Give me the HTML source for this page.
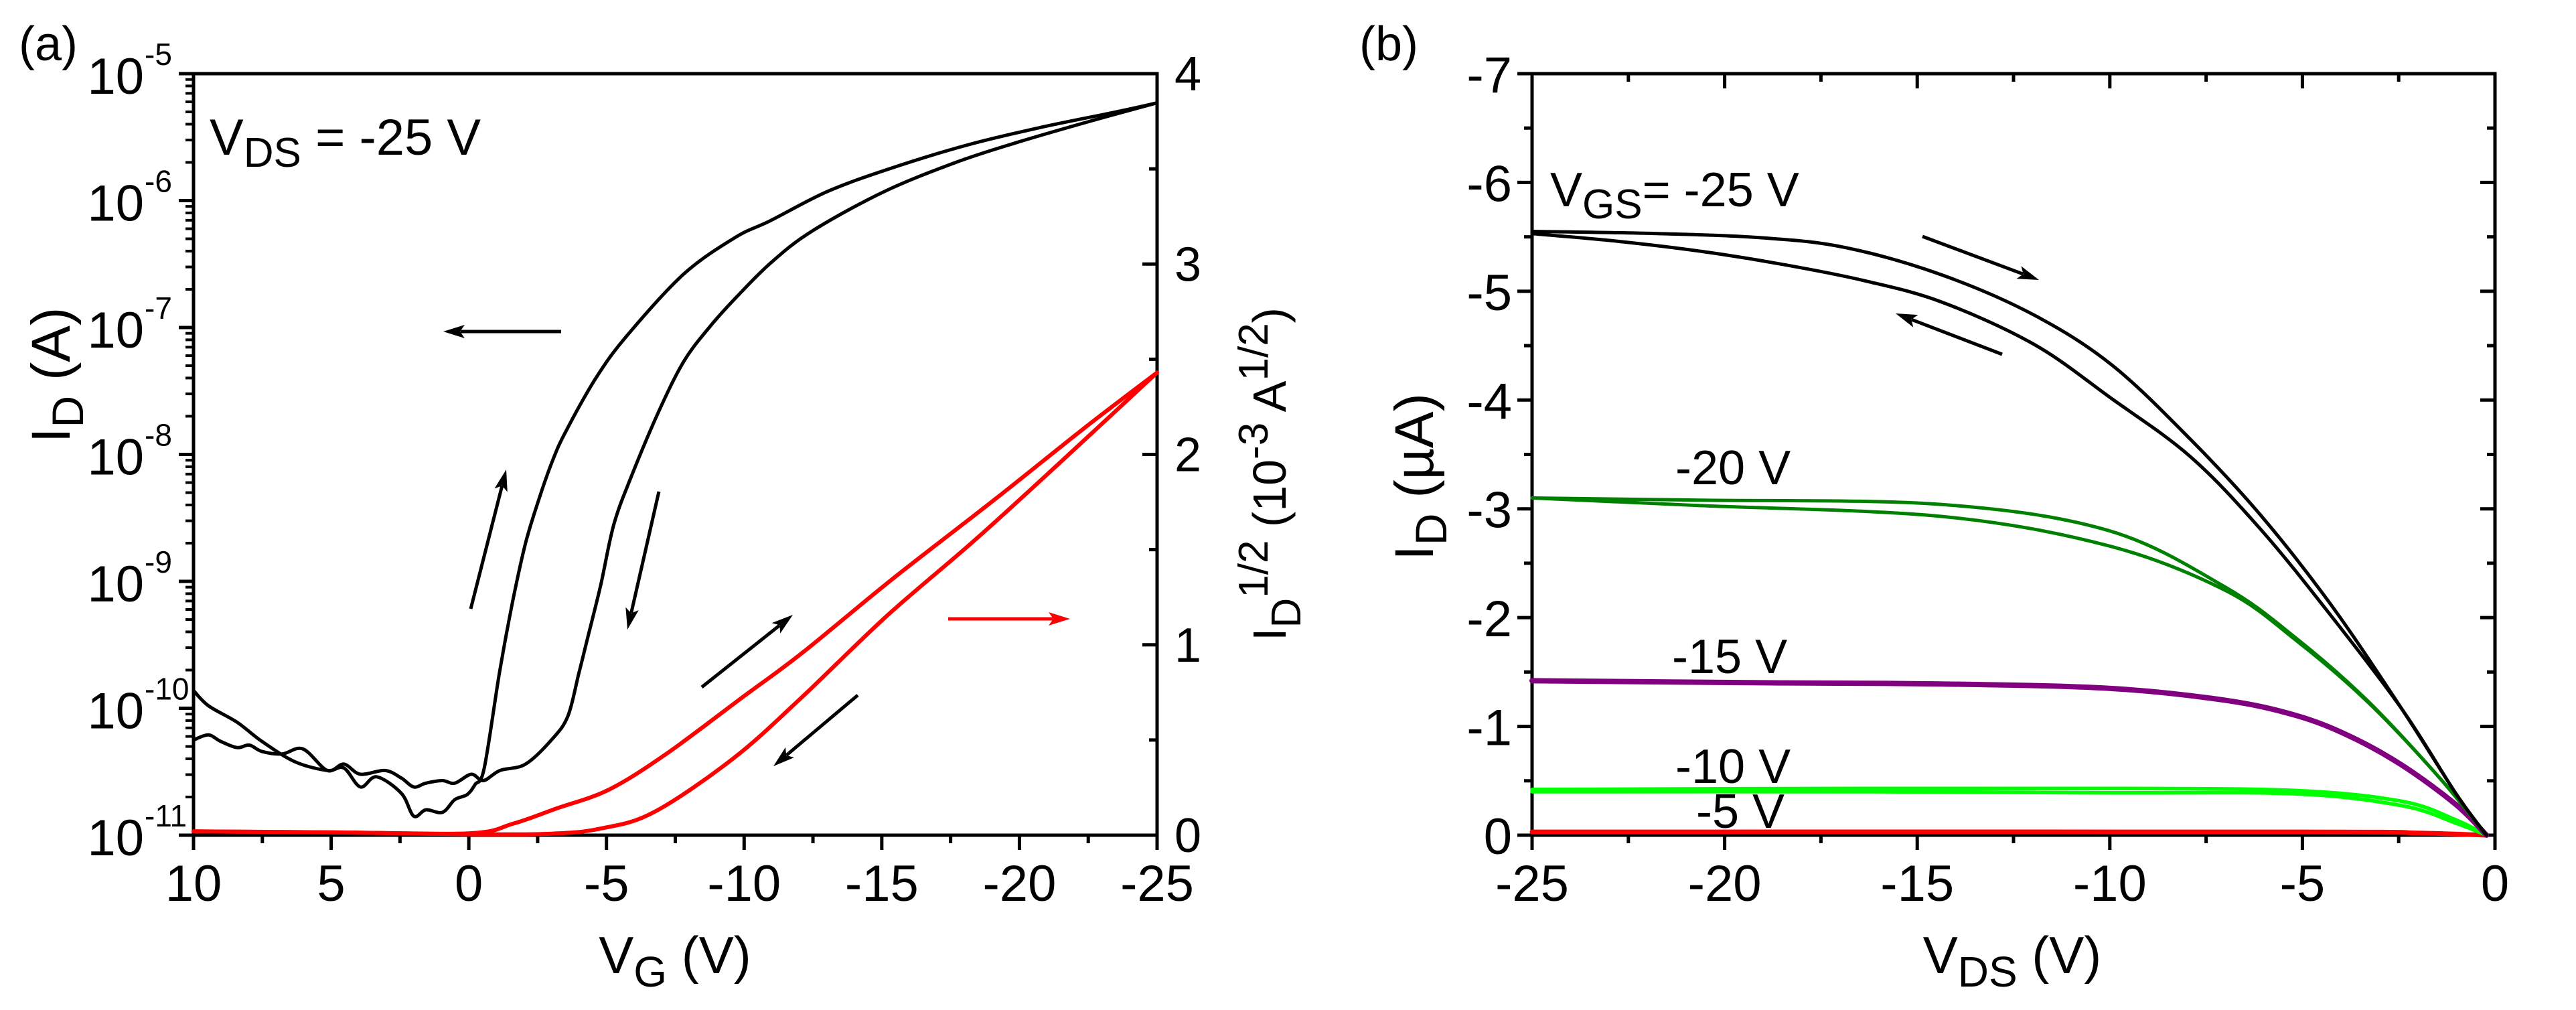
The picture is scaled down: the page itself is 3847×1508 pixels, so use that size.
<!DOCTYPE html>
<html><head><meta charset="utf-8">
<style>
html,body{margin:0;padding:0;background:#fff;}
svg{display:block;font-family:"Liberation Sans",Arial,sans-serif;}
</style></head>
<body>
<svg id="fig" width="3847" height="1508" viewBox="0 0 3847 1508" xmlns="http://www.w3.org/2000/svg">
<rect width="3847" height="1508" fill="#fff"/>
<g id="pa"></g>
<g id="pb"></g>
</svg>
<script>
// ---------- Panel (a) data ----------
const aFwdVG = [10,9.46,8.42,7.52,6.33,5.14,4.54,3.94,3.35,2.45,2.0,1.56,0.96,0.51,0.06,-0.23,-0.56,-1.12,-1.6,-2.06,-2.55,-3.04,-3.52,-4.64,-5.76,-7.8,-9.68,-10.94,-13.01,-15.27,-18.14,-20.84,-23.54,-25];
const aFwdLogID = [-9.86,-9.98,-10.11,-10.26,-10.42,-10.49,-10.47,-10.62,-10.54,-10.67,-10.85,-10.8,-10.82,-10.72,-10.68,-10.6,-10.47,-9.71,-9.15,-8.7,-8.35,-8.05,-7.82,-7.39,-7.06,-6.58,-6.29,-6.16,-5.93,-5.75,-5.56,-5.42,-5.3,-5.23];
const aRevVG = [10,9.46,9.02,8.42,7.97,7.52,6.78,6.03,5.14,4.54,3.94,3.05,2.45,2.0,1.56,0.96,0.51,-0.09,-0.53,-1.13,-2.06,-3.04,-3.6,-3.99,-4.3,-4.79,-5.27,-5.91,-6.88,-7.8,-8.73,-9.68,-10.97,-12.47,-15.08,-17.68,-19.94,-22.64,-25];
const aRevLogID = [-10.25,-10.21,-10.26,-10.31,-10.29,-10.34,-10.36,-10.32,-10.49,-10.44,-10.52,-10.49,-10.55,-10.62,-10.59,-10.57,-10.59,-10.52,-10.57,-10.49,-10.44,-10.24,-10.06,-9.73,-9.46,-9.03,-8.55,-8.17,-7.67,-7.27,-7.0,-6.77,-6.49,-6.24,-5.93,-5.7,-5.54,-5.37,-5.23];
const sqFwdVG = [10,5,0,-1.6,-3.18,-5.1,-7.2,-9.9,-12.13,-15.34,-19.16,-22.37,-25];
const sqFwdVal = [0.02,0.015,0.01,0.06,0.14,0.24,0.43,0.72,0.96,1.34,1.77,2.14,2.43];
const sqRevVG = [10,5,0,-3,-4.79,-6.71,-9.58,-11.99,-15.17,-18.38,-21.57,-25];
const sqRevVal = [0.02,0.015,0.005,0.008,0.035,0.12,0.4,0.71,1.15,1.55,1.97,2.43];
const aXTicks = [10,5,0,-5,-10,-15,-20,-25];
const aXTickLabels = ["10","5","0","-5","-10","-15","-20","-25"];
const aYExp = [-11,-10,-9,-8,-7,-6,-5];
const aRTicks = [0,1,2,3,4];

// ---------- Panel (b) data ----------
const bX25u = [-25,-21.74,-18.97,-16.84,-14.36,-11.96,-9.94,-7.91,-6.08,-4.24,-2.4,-1.01,-0.22];
const bY25u = [-5.55,-5.53,-5.49,-5.40,-5.15,-4.78,-4.32,-3.64,-2.94,-2.11,-1.15,-0.38,0];
const bX25d = [-25,-22.8,-20.67,-18.54,-16.41,-14.36,-11.96,-9.94,-7.91,-6.08,-4.24,-2.4,-1.01,-0.22];
const bY25d = [-5.53,-5.46,-5.37,-5.25,-5.10,-4.90,-4.51,-4.01,-3.48,-2.81,-2.01,-1.15,-0.38,0];
const bX20u = [-25,-20.67,-14.36,-10.03,-7.0,-5.16,-3.32,-1.47,-0.22];
const bY20u = [-3.10,-3.08,-3.04,-2.80,-2.28,-1.81,-1.24,-0.54,0];
const bX20d = [-25,-20.67,-14.36,-10.03,-7.0,-5.16,-3.32,-1.47,-0.22];
const bY20d = [-3.10,-3.03,-2.93,-2.66,-2.25,-1.79,-1.23,-0.54,0];
const bX15 = [-25,-18.54,-14.36,-10.02,-7.0,-5.16,-3.77,-2.4,-1.01,-0.22];
const bY15 = [-1.42,-1.40,-1.39,-1.35,-1.24,-1.10,-0.91,-0.64,-0.28,0];
const bX10u = [-25,-16.41,-10.02,-5.16,-2.4,-1.01,-0.22];
const bY10u = [-0.42,-0.43,-0.43,-0.41,-0.31,-0.14,0];
const bX10d = [-25,-16.41,-10.02,-5.16,-2.4,-1.01,-0.22];
const bY10d = [-0.40,-0.40,-0.39,-0.38,-0.27,-0.11,0];
const bX5 = [-25,-5,-2,-0.22];
const bY5 = [-0.03,-0.03,-0.02,0];
const bXTicks = [-25,-20,-15,-10,-5,0];
const bYTicks = [0,-1,-2,-3,-4,-5,-6,-7];

const NS="http://www.w3.org/2000/svg";
function mk(parent,tag,attrs,text){const e=document.createElementNS(NS,tag);for(const k in attrs)e.setAttribute(k,attrs[k]);if(text!==undefined)e.textContent=text;parent.appendChild(e);return e;}

const AL=289,AR=1728,AT=110,AB=1247;
const ax=v=>AL+(10-v)/35*(AR-AL);
const ayLog=l=>AB-(l+11)/6*(AB-AT);
const ayR=s=>AB-s/4*(AB-AT);
const BL=2288,BR=3726,BT=110,BB=1247;
const bx=v=>BL+(v+25)/25*(BR-BL);
const by=i=>BB-(-i)/7*(BB-BT);

const pa=document.getElementById('pa'), pb=document.getElementById('pb');

function smoothPath(P){
  let d='M'+P[0][0].toFixed(1)+','+P[0][1].toFixed(1);
  for(let i=0;i<P.length-1;i++){
    const p0=P[Math.max(0,i-1)],p1=P[i],p2=P[i+1],p3=P[Math.min(P.length-1,i+2)];
    const c1x=p1[0]+(p2[0]-p0[0])/6,c1y=p1[1]+(p2[1]-p0[1])/6;
    const c2x=p2[0]-(p3[0]-p1[0])/6,c2y=p2[1]-(p3[1]-p1[1])/6;
    d+=`C${c1x.toFixed(1)},${c1y.toFixed(1)} ${c2x.toFixed(1)},${c2y.toFixed(1)} ${p2[0].toFixed(1)},${p2[1].toFixed(1)}`;
  }
  return d;
}
function curve(parent,xs,ys,fx,fy,color,w,name){
  const P=xs.map((x,i)=>[fx(x),fy(ys[i])]);
  const p=mk(parent,'path',{d:smoothPath(P),fill:'none',stroke:color,'stroke-width':w,'stroke-linejoin':'round','stroke-linecap':'round'});
  
  
}
function arrow(parent,x1,y1,x2,y2,color,name){
  const g=mk(parent,'g',{});
  
  
  const dx=x2-x1,dy=y2-y1,L=Math.hypot(dx,dy),ux=dx/L,uy=dy/L;
  const hl=32,hw=10;
  mk(g,'line',{x1:x1,y1:y1,x2:x2-ux*hl*0.8,y2:y2-uy*hl*0.8,stroke:color,'stroke-width':5});
  const bxp=x2-ux*hl,byp=y2-uy*hl;
  mk(g,'polygon',{points:`${x2},${y2} ${bxp-uy*hw},${byp+ux*hw} ${bxp+ux*7},${byp+uy*7} ${bxp+uy*hw},${byp-ux*hw}`,fill:color});
}
function txt(parent,x,y,s,size,anchor,name,extra){
  const t=mk(parent,'text',Object.assign({x:x,y:y,'font-size':size,'text-anchor':anchor||'start',fill:'#000'},extra||{}),s);
  
  
  return t;
}

// ---------- Panel a ----------
for(let d=-11;d<-5;d++){for(let m=2;m<=9;m++){const y=ayLog(d+Math.log10(m));mk(pa,'line',{x1:AL-12,y1:y,x2:AL,y2:y,stroke:'#000','stroke-width':4});}}
aYExp.forEach(e=>{const y=ayLog(e);mk(pa,'line',{x1:AL-22,y1:y,x2:AL,y2:y,stroke:'#000','stroke-width':5});
  txt(pa,215,y+30,'10',76,'end','y-tick-label');
  txt(pa,216,y-13,String(e),46,'start','y-tick-exponent');});
for(let s=0;s<=4;s+=0.5){const y=ayR(s);const maj=Math.abs(s-Math.round(s))<1e-6;mk(pa,'line',{x1:AR-(maj?22:12),y1:y,x2:AR,y2:y,stroke:'#000','stroke-width':5});}
aRTicks.forEach(s=>txt(pa,AR+26,ayR(s)+25,String(s),72,'start','right-tick-label'));
for(let v=10;v>=-25;v-=2.5){const x=ax(v);const maj=Math.abs(v%5)<1e-6;mk(pa,'line',{x1:x,y1:AB,x2:x,y2:AB+(maj?22:12),stroke:'#000','stroke-width':5});}
aXTicks.forEach((v,i)=>txt(pa,ax(v),1345,aXTickLabels[i],76,'middle','x-tick-label'));
const fa=mk(pa,'rect',{x:AL,y:AT,width:AR-AL,height:AB-AT,fill:'none',stroke:'#000','stroke-width':5});

curve(pa,sqFwdVG,sqFwdVal,ax,ayR,'#ff0000',6,'sqrt-id-forward');
curve(pa,sqRevVG,sqRevVal,ax,ayR,'#ff0000',6,'sqrt-id-reverse');
curve(pa,aFwdVG,aFwdLogID,ax,ayLog,'#000',5,'log-id-forward');
curve(pa,aRevVG,aRevLogID,ax,ayLog,'#000',5,'log-id-reverse');
arrow(pa,838,495,662,495,'#000','arrow-left-axis');
arrow(pa,703,909,756,701,'#000','arrow-sweep-up');
arrow(pa,984,734,937,940,'#000','arrow-sweep-down');
arrow(pa,1048,1026,1184,918,'#000','arrow-red-forward');
arrow(pa,1281,1038,1155,1144,'#000','arrow-red-reverse');
arrow(pa,1416,924,1598,924,'#ff0000','arrow-right-axis');
txt(pa,28,90,'(a)',72,'start','panel-a-label');
const vds=txt(pa,313,231,'',76,'start','vds-annotation');
mk(vds,'tspan',{},'V');mk(vds,'tspan',{dy:18,'font-size':62},'DS');mk(vds,'tspan',{dy:-18},' = -25 V');
const yl=txt(pa,0,0,'',82,'middle','y-axis-title-left',{transform:'translate(104,560) rotate(-90)'});
mk(yl,'tspan',{},'I');mk(yl,'tspan',{dy:20,'font-size':66},'D');mk(yl,'tspan',{dy:-20},' (A)');
const yr=txt(pa,0,0,'',70,'middle','y-axis-title-right',{transform:'translate(1920,708) rotate(-90)'});
mk(yr,'tspan',{},'I');mk(yr,'tspan',{dy:22,'font-size':62},'D');mk(yr,'tspan',{dy:-49,'font-size':62},'1/2');
mk(yr,'tspan',{dy:27},' (10');mk(yr,'tspan',{dy:-27,'font-size':62},'-3');mk(yr,'tspan',{dy:27},' A');mk(yr,'tspan',{dy:-27,'font-size':62},'1/2');mk(yr,'tspan',{dy:27},')');
const xl=txt(pa,1008,1453,'',78,'middle','x-axis-title-a');
mk(xl,'tspan',{},'V');mk(xl,'tspan',{dy:20,'font-size':64},'G');mk(xl,'tspan',{dy:-20},' (V)');

// ---------- Panel b ----------
for(let i=0;i<=7;i+=0.5){const y=by(-i);const maj=Math.abs(i-Math.round(i))<1e-6;
  mk(pb,'line',{x1:BL-(maj?22:12),y1:y,x2:BL,y2:y,stroke:'#000','stroke-width':5});
  mk(pb,'line',{x1:BR-(maj?22:12),y1:y,x2:BR,y2:y,stroke:'#000','stroke-width':5});}
bYTicks.forEach(v=>txt(pb,BL-30,by(v)+28,String(v),76,'end','y-tick-label-b'));
for(let v=-25;v<=0;v+=2.5){const x=bx(v);const maj=Math.abs(v%5)<1e-6;
  mk(pb,'line',{x1:x,y1:BB,x2:x,y2:BB+(maj?22:12),stroke:'#000','stroke-width':5});
  mk(pb,'line',{x1:x,y1:BT,x2:x,y2:BT+(maj?22:12),stroke:'#000','stroke-width':5});}
bXTicks.forEach(v=>txt(pb,bx(v),1345,String(v),76,'middle','x-tick-label-b'));
const fb=mk(pb,'rect',{x:BL,y:BT,width:BR-BL,height:BB-BT,fill:'none',stroke:'#000','stroke-width':5});

curve(pb,bX5,bY5,bx,by,'#ff0000',7,'curve-vgs-5');
curve(pb,bX10u,bY10u,bx,by,'#00ff00',5.5,'curve-vgs-10-forward');
curve(pb,bX10d,bY10d,bx,by,'#00ff00',5.5,'curve-vgs-10-reverse');
curve(pb,bX15,bY15,bx,by,'#800080',8,'curve-vgs-15');
curve(pb,bX20u,bY20u,bx,by,'#008000',5,'curve-vgs-20-forward');
curve(pb,bX20d,bY20d,bx,by,'#008000',5,'curve-vgs-20-reverse');
curve(pb,bX25u,bY25u,bx,by,'#000',5,'curve-vgs-25-forward');
curve(pb,bX25d,bY25d,bx,by,'#000',5,'curve-vgs-25-reverse');
arrow(pb,2871,353,3045,418,'#000','arrow-forward-sweep');
arrow(pb,2990,529,2831,468,'#000','arrow-reverse-sweep');
txt(pb,2030,90,'(b)',72,'start','panel-b-label');
const vgs=txt(pb,2315,308,'',72,'start','vgs-label-25');
mk(vgs,'tspan',{},'V');mk(vgs,'tspan',{dy:18,'font-size':62},'GS');mk(vgs,'tspan',{dy:-18},'= -25 V');
txt(pb,2502,723,'-20 V',72,'start','vgs-label-20');
txt(pb,2497,1005,'-15 V',72,'start','vgs-label-15');
txt(pb,2502,1169,'-10 V',72,'start','vgs-label-10');
txt(pb,2533,1236,'-5 V',72,'start','vgs-label-5');
const ylb=txt(pb,0,0,'',82,'middle','y-axis-title-b',{transform:'translate(2140,712) rotate(-90)'});
mk(ylb,'tspan',{},'I');mk(ylb,'tspan',{dy:20,'font-size':66},'D');mk(ylb,'tspan',{dy:-20},' (µA)');
const xlb=txt(pb,3005,1453,'',78,'middle','x-axis-title-b');
mk(xlb,'tspan',{},'V');mk(xlb,'tspan',{dy:20,'font-size':64},'DS');mk(xlb,'tspan',{dy:-20},' (V)');
</script>
</body></html>
